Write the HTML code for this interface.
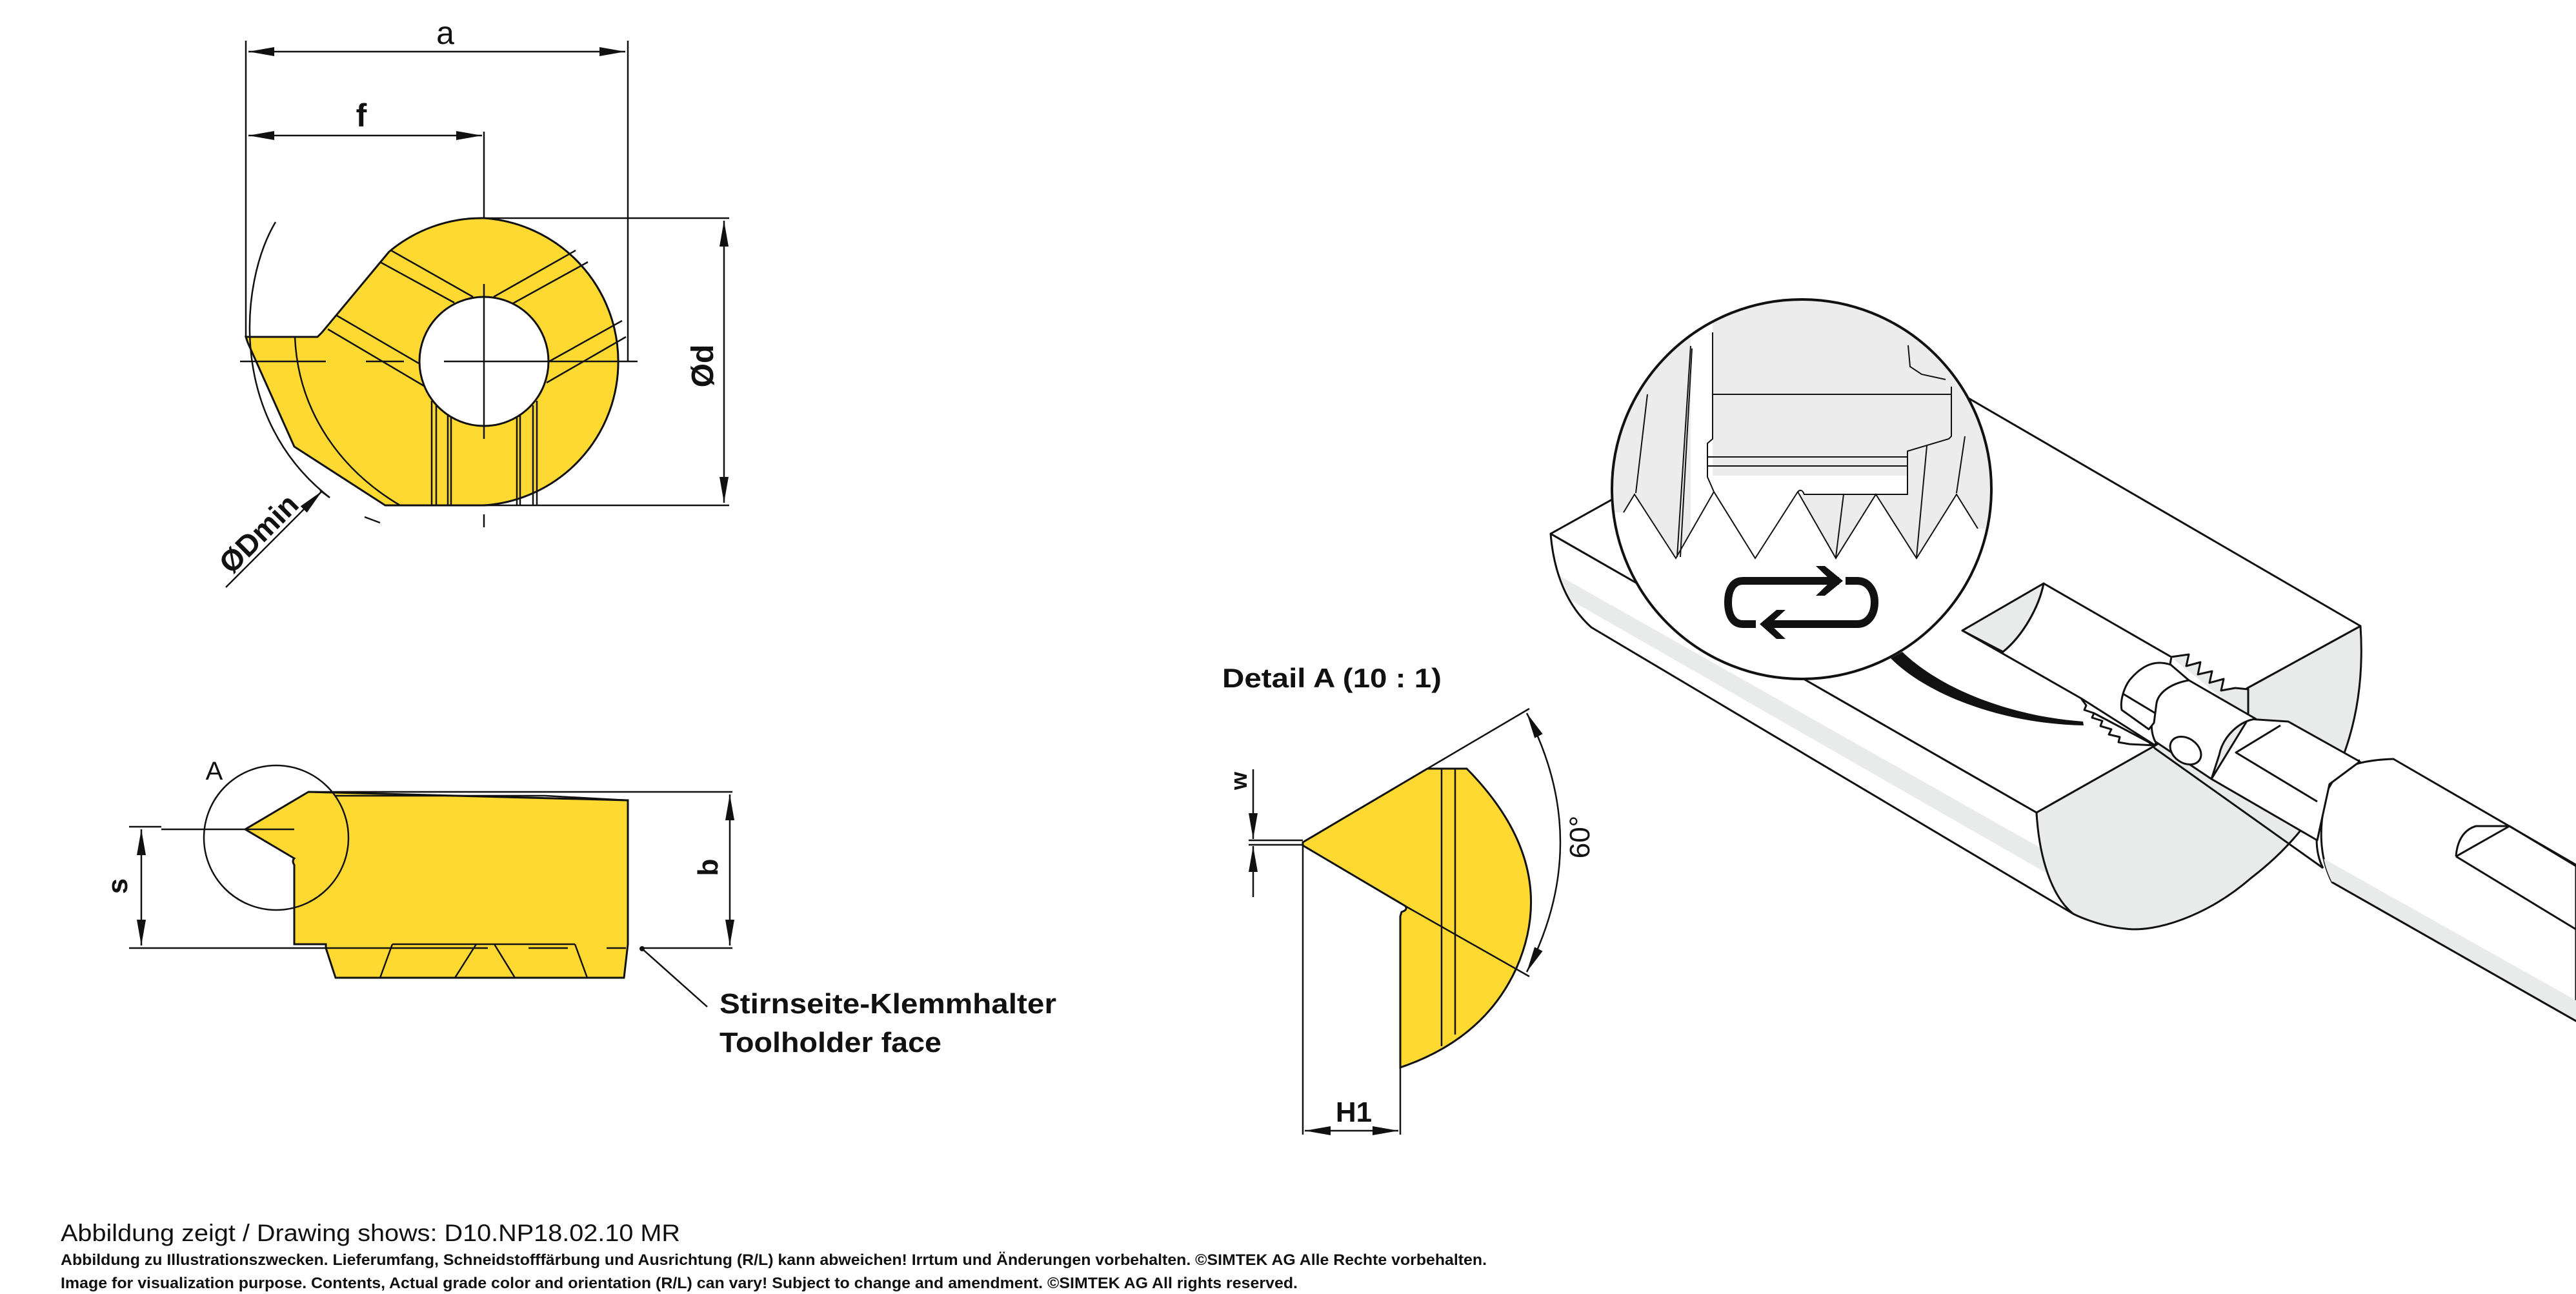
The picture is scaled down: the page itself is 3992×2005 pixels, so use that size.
<!DOCTYPE html>
<html><head><meta charset="utf-8"><style>
html,body{margin:0;padding:0;background:#fff;}
svg{display:block;}
text{font-family:"Liberation Sans",sans-serif;}
</style></head><body>
<svg width="3992" height="2005" viewBox="0 0 3992 2005" xmlns="http://www.w3.org/2000/svg">
<defs>
<marker id="ar" viewBox="0 0 40 14" refX="40" refY="7" markerWidth="40" markerHeight="14" markerUnits="userSpaceOnUse" orient="auto-start-reverse">
<path d="M0,0 L40,7 L0,14 Z" fill="#111"/></marker>
<clipPath id="mag"><circle cx="2792" cy="758" r="294"/></clipPath>
<clipPath id="shaftclip"><path d="M3709,1176 L3992,1340 L3992,1582 L3614,1367 C3595,1330 3590,1280 3610,1215 C3625,1190 3650,1178 3709,1176 Z"/></clipPath>
</defs>

<!-- ================= TOP VIEW ================= -->
<g stroke="#111" stroke-width="2.5" fill="none">
<line x1="381" y1="63" x2="381" y2="522"/>
<line x1="973" y1="63" x2="973" y2="560"/>
<line x1="750" y1="204" x2="750" y2="615"/>
<line x1="750" y1="676" x2="750" y2="736"/>
<line x1="750" y1="797" x2="750" y2="817"/>
<line x1="385" y1="80" x2="969" y2="80" marker-start="url(#ar)" marker-end="url(#ar)"/>
<line x1="385" y1="210" x2="747" y2="210" marker-start="url(#ar)" marker-end="url(#ar)"/>
<line x1="750" y1="338" x2="1130" y2="338"/>
<line x1="750" y1="783" x2="1130" y2="783"/>
<line x1="1122" y1="342" x2="1122" y2="779" marker-start="url(#ar)" marker-end="url(#ar)"/>
</g>
<path d="M750,338 A223,223 0 0 1 750,783 L597,783 L456,692 L384,531 L381,522 L492,522 L499,515 L603,390 A223,223 0 0 1 750,338 Z" fill="#FED931" stroke="#111" stroke-width="3"/>
<circle cx="750" cy="560" r="100" fill="#fff" stroke="#111" stroke-width="3"/>
<g stroke="#111" stroke-width="2.5" fill="none">
<path d="M457,522 C462,640 530,730 620,783"/>
<path d="M427,344 C370,440 355,650 511,771"/>
<line x1="565" y1="801" x2="589" y2="810"/>
<line x1="496" y1="760" x2="511" y2="771"/>
<line x1="350" y1="910" x2="499" y2="761" marker-end="url(#ar)"/>
<line x1="606" y1="388" x2="733" y2="460"/><line x1="589" y1="406" x2="704" y2="469"/>
<line x1="892" y1="388" x2="765" y2="460"/><line x1="911" y1="406" x2="795" y2="470"/>
<line x1="964" y1="497" x2="851" y2="560"/><line x1="970" y1="522" x2="847" y2="593"/>
<line x1="522" y1="489" x2="649" y2="563"/><line x1="508" y1="510" x2="657" y2="598"/>
<line x1="669" y1="621" x2="669" y2="783"/><line x1="676" y1="628" x2="676" y2="783"/>
<line x1="694" y1="643" x2="694" y2="783"/><line x1="699" y1="645" x2="699" y2="783"/>
<line x1="801" y1="645" x2="801" y2="783"/><line x1="806" y1="643" x2="806" y2="783"/>
<line x1="826" y1="628" x2="826" y2="783"/><line x1="832" y1="621" x2="832" y2="783"/>
<line x1="372" y1="560" x2="505" y2="560"/><line x1="567" y1="560" x2="626" y2="560"/><line x1="688" y1="560" x2="988" y2="560"/>
<line x1="750" y1="440" x2="750" y2="680"/>
</g>
<text x="690" y="68" font-size="50" text-anchor="middle" fill="#111">a</text>
<text x="560" y="196" font-size="50" text-anchor="middle" fill="#111" font-weight="bold">f</text>
<text transform="translate(1105,567) rotate(-90)" font-size="48" text-anchor="middle" fill="#111" font-weight="bold">Ød</text>
<text transform="translate(412,838) rotate(-45)" font-size="46" text-anchor="middle" fill="#111" font-weight="bold">ØDmin</text>

<!-- ================= SIDE VIEW ================= -->
<path d="M478,1227 L973,1240 L973,1463 L967,1515 L520,1515 L505,1469 L505,1463 L456,1463 L456,1340 Q452,1334 456,1330 L380,1285 Z" fill="#FED931" stroke="#111" stroke-width="3"/>
<g stroke="#111" stroke-width="2.5" fill="none">
<line x1="478" y1="1227" x2="1135" y2="1227"/>
<path d="M520,1233 L845,1233 L973,1240"/>
<line x1="608" y1="1463" x2="891" y2="1463"/>
<line x1="608" y1="1463" x2="589" y2="1515"/>
<line x1="738" y1="1463" x2="705" y2="1515"/>
<line x1="766" y1="1463" x2="798" y2="1515"/>
<line x1="891" y1="1463" x2="910" y2="1515"/>
<line x1="250" y1="1285" x2="456" y2="1285"/>
<line x1="200" y1="1469" x2="756" y2="1469"/><line x1="819" y1="1469" x2="880" y2="1469"/><line x1="940" y1="1469" x2="970" y2="1469"/><line x1="993" y1="1469" x2="1135" y2="1469"/>
<line x1="200" y1="1281" x2="250" y2="1281"/>
<line x1="219" y1="1285" x2="219" y2="1465" marker-start="url(#ar)" marker-end="url(#ar)"/>
<line x1="1131" y1="1231" x2="1131" y2="1465" marker-start="url(#ar)" marker-end="url(#ar)"/>
<circle cx="428" cy="1298" r="112"/>
<line x1="995" y1="1470" x2="1096" y2="1560"/>
</g>
<circle cx="995" cy="1470" r="4" fill="#111"/>
<text x="332" y="1208" font-size="40" text-anchor="middle" fill="#111">A</text>
<text transform="translate(1112,1344) rotate(-90)" font-size="44" text-anchor="middle" fill="#111" font-weight="bold">b</text>
<text transform="translate(197,1373) rotate(-90)" font-size="44" text-anchor="middle" fill="#111" font-weight="bold">s</text>
<text x="1115" y="1570" font-size="44" fill="#111" font-weight="bold" textLength="522" lengthAdjust="spacingAndGlyphs">Stirnseite-Klemmhalter</text>
<text x="1115" y="1630" font-size="44" fill="#111" font-weight="bold" textLength="344" lengthAdjust="spacingAndGlyphs">Toolholder face</text>

<!-- ================= DETAIL A ================= -->
<text x="1894" y="1065" font-size="42" fill="#111" font-weight="bold" textLength="340" lengthAdjust="spacingAndGlyphs">Detail A (10 : 1)</text>
<path d="M2019,1305 L2212,1191 L2273,1191 Q2420,1340 2350,1500 Q2300,1610 2170,1654 L2170,1420 L2172,1413 Q2182,1410 2178,1404 L2019,1310 Z" fill="#FED931" stroke="#111" stroke-width="3"/>
<g stroke="#111" stroke-width="2.5" fill="none">
<line x1="2212" y1="1191" x2="2370" y2="1098"/>
<line x1="2178" y1="1404" x2="2370" y2="1513"/>
<line x1="2234" y1="1191" x2="2234" y2="1621"/>
<line x1="2255" y1="1191" x2="2255" y2="1603"/>
<path d="M2366,1105 Q2470,1305 2366,1506" marker-start="url(#ar)" marker-end="url(#ar)"/>
<line x1="1935" y1="1302" x2="2019" y2="1302"/>
<line x1="1935" y1="1309" x2="2019" y2="1309"/>
<line x1="1942" y1="1192" x2="1942" y2="1300" marker-end="url(#ar)"/>
<line x1="1942" y1="1390" x2="1942" y2="1311" marker-end="url(#ar)"/>
<line x1="2019" y1="1310" x2="2019" y2="1758"/>
<line x1="2170" y1="1654" x2="2170" y2="1758"/>
<line x1="2022" y1="1752" x2="2167" y2="1752" marker-start="url(#ar)" marker-end="url(#ar)"/>
</g>
<text transform="translate(1932,1210) rotate(-90)" font-size="36" text-anchor="middle" fill="#111" font-weight="bold">w</text>
<text transform="translate(2463,1297) rotate(-90)" font-size="44" text-anchor="middle" fill="#111">60°</text>
<text x="2098" y="1738" font-size="44" text-anchor="middle" fill="#111" font-weight="bold">H1</text>

<!-- ================= 3D ILLUSTRATION ================= -->
<g stroke="#111" stroke-width="3" fill="none" stroke-linejoin="round">
<path d="M2403,827 L3156,1259 C3160,1330 3190,1400 3213,1416 L2466,972 C2430,940 2408,890 2403,827 Z" fill="#fff"/>
<path d="M2418,893 L3205,1338 L3205,1372 L2434,930 Z" fill="#e9eaea" stroke="none"/>
<path d="M3156,1259 L3340,1155 L3483,1066 L3658,970 C3668,1120 3620,1260 3489,1360 C3420,1420 3340,1445 3294,1439 C3250,1435 3213,1416 3213,1416 C3180,1390 3160,1330 3156,1259 Z" fill="#e9eaea"/>
<path d="M2403,827 L2918,540 L3658,970 L3483,1066 L3340,1155 L3156,1259 Z" fill="#fff"/>
<path d="M3041,977 L3167,904 L3365,1018 L3340,1155 L3225,1082 Z" fill="#fff"/>
<path d="M3167,904 C3160,940 3135,985 3104,1010 L3041,977 Z" fill="#e9eaea"/>
<path d="M3167,904 C3160,940 3135,985 3104,1010"/>
<path d="M3225,1082 L3233,1093 L3230,1100 L3245,1105 L3242,1112 L3258,1117 L3255,1125 L3272,1130 L3268,1138 L3285,1142 L3283,1150 L3300,1153 L3340,1155"/>
<path d="M3709,1176 L3992,1340 L3992,1582 L3614,1367 C3595,1330 3590,1280 3610,1215 C3625,1190 3650,1178 3709,1176 Z" fill="#fff"/>
<g clip-path="url(#shaftclip)"><path d="M3600,1330 L3992,1550 L3992,1585 L3600,1365 Z" fill="#e9eaea" stroke="none"/></g>
<path d="M3614,1367 L3992,1582"/>
<path d="M3657,1178 C3630,1185 3600,1215 3591,1282 C3588,1310 3592,1330 3600,1345"/>
<path d="M3806,1327 L3992,1440"/>
<path d="M3806,1327 L3889,1280 L3992,1342"/>
<path d="M3806,1327 C3808,1300 3820,1285 3837,1280 L3889,1280"/>
<path d="M3484,1114 L3546,1118 L3657,1180 L3610,1215 L3591,1302 L3427,1207 Z" fill="#fff"/>
<path d="M3534,1124 L3465,1166 L3591,1242"/>
<path d="M3364,1018 L3392,1014 L3388,1032 L3410,1026 L3406,1045 L3428,1040 L3424,1058 L3446,1052 L3442,1070 L3464,1066 L3484,1068 L3484,1114" fill="#e9eaea"/>
<path d="M3342,1089 C3345,1070 3358,1056 3392,1054 L3496,1114 C3472,1116 3445,1140 3439,1170 L3427,1207 L3340,1149 C3330,1130 3335,1105 3342,1089 Z" fill="#fff"/>
<path d="M3300,1054 C3320,1030 3340,1022 3364,1030 L3392,1054 C3360,1060 3345,1075 3342,1089 L3338,1120 L3330,1130 L3288,1100 C3285,1085 3292,1065 3300,1054 Z" fill="#fff"/>
<path d="M3290,1075 L3340,1105"/>
<ellipse cx="3387" cy="1163" rx="26" ry="19" transform="rotate(35 3387 1163)" fill="#fff"/>
<path d="M3245,1105 L3330,1150 L3340,1160 L3600,1345"/>
</g>
<g clip-path="url(#mag)">
<rect x="2490" y="455" width="610" height="610" fill="#ececec"/>
<path d="M2490,794 L2516,794 L2533,766 L2597,865 L2656,762 L2720,865 L2786,762 L2845,865 L2907,766 L2970,865 L3032,766 L3065,819 L3100,819 L3100,1060 L2490,1060 Z" fill="#fff"/>
<rect x="2620" y="455" width="34" height="420" fill="#fff"/>
<path d="M2646,737 L2956,737 L2956,766 L2656,766 Z" fill="#fff"/>
<path d="M2656,762 L2720,865 L2786,762 Z" fill="#fff"/>
<g stroke="#111" stroke-width="2" fill="none">
<path d="M2516,794 L2533,766 L2597,865 L2656,762 L2646,739 L2646,687 L2654,680 L2654,515"/>
<path d="M2656,762 L2720,865 L2786,762 Q2792,756 2796,766 L2956,766 L2956,699 L3020,680 L3024,676 L3024,599"/>
<path d="M2786,762 L2845,865 L2907,766 L2970,865 L3032,766 L3065,819"/>
<line x1="2654" y1="611" x2="3024" y2="611"/>
<line x1="2646" y1="708" x2="2956" y2="708"/>
<line x1="2646" y1="722" x2="2956" y2="722"/>
<path d="M2599,863 L2620,536"/><path d="M2604,863 L2622,540"/>
<path d="M2535,764 L2553,611"/>
<path d="M2845,863 L2857,766"/>
<path d="M2970,863 L2986,691"/>
<path d="M3032,764 L3045,676"/>
<path d="M2957,535 L2960,568 L2978,580 L3015,588"/>
</g>
</g>
<circle cx="2792" cy="758" r="294" fill="none" stroke="#111" stroke-width="4"/>
<g stroke="#111" stroke-width="12" fill="none">
<path d="M2850,900 L2701,900 C2685,900 2678,915 2678,933 C2678,952 2685,967 2701,967 L2721,967"/>
<path d="M2860,900 L2878,900 C2895,900 2905,915 2905,933 C2905,952 2895,967 2878,967 L2735,967"/>
</g>
<path d="M2814,877 L2828,877 L2856,900 L2828,923 L2814,923 L2838,900 Z" fill="#111"/>
<path d="M2767,945 L2753,945 L2727,967 L2753,990 L2767,990 L2743,967 Z" fill="#111"/>
<path d="M2948,1010 C3010,1070 3120,1110 3228,1118 L3229,1124 C3110,1122 2990,1080 2930,1020 Z" fill="#111"/>

<!-- ================= FOOTER ================= -->
<text x="94" y="1923" font-size="37" fill="#111" textLength="960" lengthAdjust="spacingAndGlyphs">Abbildung zeigt / Drawing shows: D10.NP18.02.10 MR</text>
<text x="94" y="1960" font-size="24" fill="#111" font-weight="bold" textLength="2210" lengthAdjust="spacingAndGlyphs">Abbildung zu Illustrationszwecken. Lieferumfang, Schneidstofffärbung und Ausrichtung (R/L) kann abweichen! Irrtum und Änderungen vorbehalten. ©SIMTEK AG Alle Rechte vorbehalten.</text>
<text x="94" y="1996" font-size="24" fill="#111" font-weight="bold" textLength="1917" lengthAdjust="spacingAndGlyphs">Image for visualization purpose. Contents, Actual grade color and orientation (R/L) can vary! Subject to change and amendment. ©SIMTEK AG All rights reserved.</text>
</svg>
</body></html>
